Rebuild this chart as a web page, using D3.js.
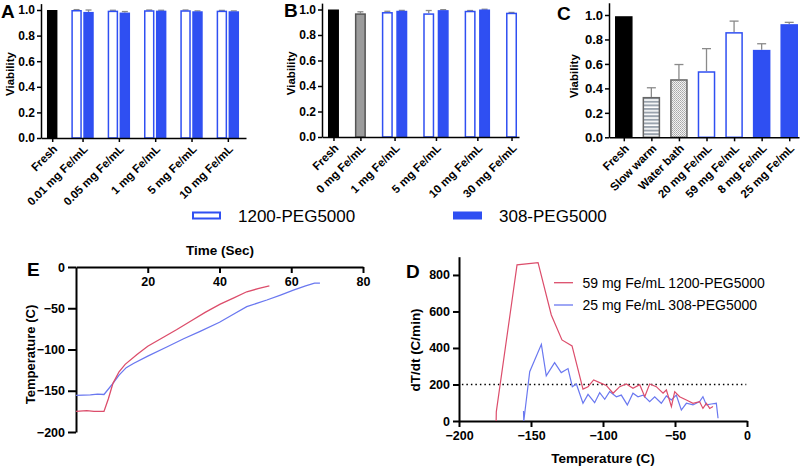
<!DOCTYPE html>
<html><head><meta charset="utf-8">
<script src="https://cdn.jsdelivr.net/npm/d3@7"></script>
<style>
body{margin:0;background:#fff;}
svg{display:block;font-family:"Liberation Sans",Arial,sans-serif;}
.ax text{font-weight:bold;fill:#000;}
.ax path,.ax line{stroke:#000;}
</style></head><body>
<svg id="c" width="810" height="468"></svg>
<script>
// ---------- DATA ----------
// Panel A
const aCategories = ["Fresh","0.01 mg Fe/mL","0.05 mg Fe/mL","1 mg Fe/mL","5 mg Fe/mL","10 mg Fe/mL"];
const aControl    = [1.0, null, null, null, null, null];
const aOpen       = [null, 1.0, 0.995, 0.998, 0.998, 0.995];
const aOpenErr    = [null, 0.003, 0.003, 0.002, 0.002, 0.002];
const aFilled     = [null, 0.985, 0.98, 0.995, 0.99, 0.99];
const aFilledErr  = [null, 0.015, 0.008, 0.003, 0.003, 0.003];
// Panel B
const bCategories = ["Fresh","0 mg Fe/mL","1 mg Fe/mL","5 mg Fe/mL","10 mg Fe/mL","30 mg Fe/mL"];
const bControl    = [1.0, 0.97, null, null, null, null];
const bControlErr = [0, 0.012, null, null, null, null];
const bOpen       = [null, null, 0.98, 0.97, 0.99, 0.975];
const bOpenErr    = [null, null, 0.006, 0.022, 0.002, 0.002];
const bFilled     = [null, null, 0.99, 0.995, 1.0, null];
const bFilledErr  = [null, null, 0.003, 0.004, 0.002, null];
// Panel C
const cCategories = ["Fresh","Slow warm","Water bath","20 mg Fe/mL","59 mg Fe/mL","8 mg Fe/mL","25 mg Fe/mL"];
const cValues     = [0.99, 0.33, 0.475, 0.54, 0.86, 0.715, 0.925];
const cErrors     = [0, 0.075, 0.12, 0.185, 0.09, 0.05, 0.015];
const cSeries     = ["fresh","slow","bath","1200","1200","308","308"];
const viabilityTicks = [0, 0.2, 0.4, 0.6, 0.8, 1.0];
// Legend
const legendLabels = ["1200-PEG5000","308-PEG5000"];
// Panel E: time (s) vs temperature (C)
const eRed  = [[0,-175],[3,-174],[5,-175],[7.8,-175],[9,-160],[10.3,-141],[12,-127],[13.7,-118],[17,-106],[20,-96],[24,-86],[28,-76],[31.8,-66],[36,-55],[40.2,-45],[44,-37.5],[47.6,-30],[51,-26],[53.9,-23]];
const eBlue = [[0,-155.5],[4,-155],[6,-154],[7.8,-154.5],[10.3,-141],[12,-131],[14,-122],[16,-117],[20,-108],[25.3,-97],[30,-87],[34.6,-78],[40,-67],[44,-57],[47.6,-48],[53.2,-40],[57,-34],[60.6,-28],[64,-23],[66.5,-19.5],[68,-19.5]];
const eXTicks = [20,40,60,80];
const eYTicks = [0,-50,-100,-150,-200];
// Panel D: temperature (C) vs dT/dt (C/min)
const dRed = [[-174.2,0],[-174.1,50],[-159.7,855],[-145.1,868],[-135.9,581],[-128.5,444],[-121.5,411],[-113.9,175],[-110.4,188],[-106.5,225],[-102.3,210],[-97.7,195],[-93,152],[-88.4,188],[-83.8,203],[-79.2,179],[-74.5,199],[-71,133],[-67.6,203],[-63,188],[-58.3,152],[-56,170],[-52.5,79],[-50.2,161],[-46.8,133],[-42.1,115],[-37.5,97],[-32.9,106],[-30.6,69],[-28.2,97],[-25.9,69],[-23.6,79]];
const dBlue = [[-155.2,55],[-155,0],[-150.9,270],[-142.8,420],[-139.4,247],[-133.6,320],[-129,265],[-124.3,287],[-121.3,188],[-118.5,203],[-113.9,97],[-110.4,146],[-105.8,100],[-102.3,155],[-98.8,119],[-95.4,161],[-90.7,133],[-87.3,142],[-83.1,88],[-79.2,152],[-75.7,133],[-72.2,142],[-67.6,106],[-64.1,133],[-59.5,97],[-56,137],[-52.5,115],[-49.1,142],[-45.6,60],[-42.1,97],[-37.5,88],[-32.9,106],[-30.6,133],[-28.2,88],[-24.8,93],[-21.3,97],[-20.1,15]];
const dThreshold = 200;
const dXTicks = [-200,-150,-100,-50,0];
const dYTicks = [0,200,400,600,800];
const dLegend = ["59 mg Fe/mL 1200-PEG5000","25 mg Fe/mL 308-PEG5000"];

// ---------- STYLE ----------
const BLUE = "#2f4ff2", RED = "#dc4d6b", LBLUE = "#6a78f0", ERR = "#8a8a8a";
const svg = d3.select("#c");
const defs = svg.append("defs");
const stripes = defs.append("pattern").attr("id","stripes").attr("patternUnits","userSpaceOnUse").attr("width",6).attr("height",3.6);
stripes.append("rect").attr("width",6).attr("height",3.6).attr("fill","#fff");
stripes.append("rect").attr("width",6).attr("height",2).attr("fill","#9aa3ad");
const dots = defs.append("pattern").attr("id","dots").attr("patternUnits","userSpaceOnUse").attr("width",2).attr("height",2);
dots.append("rect").attr("width",2).attr("height",2).attr("fill","#f2f2f2");
dots.append("rect").attr("width",1).attr("height",1).attr("fill","#a8a8a8");
dots.append("rect").attr("x",1).attr("y",1).attr("width",1).attr("height",1).attr("fill","#b8b8b8");

const styles = {
  fresh:{fill:"#000",stroke:"#000"},
  gray:{fill:"#9c9c9c",stroke:"#555"},
  slow:{fill:"url(#stripes)",stroke:"#666"},
  bath:{fill:"url(#dots)",stroke:"#666"},
  "1200":{fill:"#fff",stroke:BLUE},
  "308":{fill:BLUE,stroke:BLUE}
};

// ---------- BAR PANELS ----------
function buildGroups(cats, seriesList){
  return cats.map((c,i)=>({cat:c, bars: seriesList.filter(s=>s.values[i]!=null).map(s=>({v:s.values[i], e:s.errors?(s.errors[i]||0):0, kind:(typeof s.kind==="function"?s.kind(i):s.kind)}))}));
}
function barPanel(opt){
  const {groups, x0, x1, y0, yTop, yMax, inner, outer, padL, padR, letter, letterPos, titleX, tickFont, catFont, capW} = opt;
  let u = padL; const placed = []; const centers = [];
  groups.forEach((g,gi)=>{
    if(gi>0) u += outer;
    const start = u;
    g.bars.forEach((b,bi)=>{ if(bi>0) u += inner; placed.push({...b, u0:u}); u += 1; });
    centers.push({cat:g.cat, c:(start+u)/2});
  });
  const total = u + padR;
  const x = d3.scaleLinear().domain([0,total]).range([x0,x1]);
  const y = d3.scaleLinear().domain([0,yMax]).range([y0,yTop]);
  const g = svg.append("g");
  placed.forEach(b=>{
    if(b.e>0){
      const cx = x(b.u0+0.5);
      g.append("line").attr("x1",cx).attr("x2",cx).attr("y1",y(b.v)).attr("y2",y(b.v+b.e)).attr("stroke",ERR).attr("stroke-width",1.3);
      g.append("line").attr("x1",cx-capW/2).attr("x2",cx+capW/2).attr("y1",y(b.v+b.e)).attr("y2",y(b.v+b.e)).attr("stroke",ERR).attr("stroke-width",1.3);
    }
  });
  g.selectAll("rect.bar").data(placed).join("rect").attr("class","bar")
    .attr("x",d=>x(d.u0)+0.75).attr("width",d=>x(d.u0+1)-x(d.u0)-1.5)
    .attr("y",d=>y(d.v)+0.75).attr("height",d=>y(0)-y(d.v)-0.75)
    .attr("fill",d=>styles[d.kind].fill).attr("stroke",d=>styles[d.kind].stroke).attr("stroke-width",1.5);
  const ya = g.append("g").attr("class","ax").attr("transform",`translate(${x0},0)`)
    .call(d3.axisLeft(y).tickValues(viabilityTicks).tickFormat(d3.format(".1f")).tickSize(4).tickSizeOuter(0).tickPadding(2));
  ya.selectAll("text").style("font-size",tickFont+"px");
  ya.selectAll("path,line").attr("stroke-width",1.5);
  const xa = g.append("g").attr("class","ax").attr("transform",`translate(0,${y0})`)
    .call(d3.axisBottom(x).tickValues(centers.map(c=>c.c)).tickFormat("").tickSize(4).tickSizeOuter(0));
  xa.selectAll("path,line").attr("stroke-width",1.5);
  centers.forEach(c=>{
    g.append("text").attr("transform",`translate(${x(c.c)+3},${y0+9}) rotate(-45)`)
      .attr("text-anchor","end").attr("dy","0.35em").style("font-weight","bold").style("font-size",catFont+"px").text(c.cat);
  });
  g.append("text").attr("transform",`translate(${titleX},${(y0+y(1))/2}) rotate(-90)`).attr("text-anchor","middle")
    .attr("dy","0.35em").style("font-weight","bold").style("font-size","11.5px").text("Viability");
  g.append("text").attr("x",letterPos[0]).attr("y",letterPos[1]).style("font-weight","bold").style("font-size","19px").text(letter);
}

barPanel({groups: buildGroups(aCategories,[{values:aControl,kind:"fresh"},{values:aOpen,errors:aOpenErr,kind:"1200"},{values:aFilled,errors:aFilledErr,kind:"308"}]),
  x0:41, x1:246, y0:138, yTop:138-1.05*128, yMax:1.05, inner:1.5/10.5, outer:14/10.5, padL:6/10.5, padR:7/10.5,
  letter:"A", letterPos:[1,18], titleX:10, tickFont:12, catFont:11.5, capW:6});
barPanel({groups: buildGroups(bCategories,[{values:bControl,errors:bControlErr,kind:i=>i===0?"fresh":"gray"},{values:bOpen,errors:bOpenErr,kind:"1200"},{values:bFilled,errors:bFilledErr,kind:"308"}]),
  x0:322, x1:519, y0:137, yTop:137-1.05*127.5, yMax:1.05, inner:3.5/11, outer:16/11, padL:6/11, padR:2/11,
  letter:"B", letterPos:[284,17], titleX:291, tickFont:12, catFont:11.5, capW:6});
barPanel({groups: buildGroups(cCategories,[{values:cValues,errors:cErrors,kind:i=>cSeries[i]}]),
  x0:609, x1:799, y0:137.3, yTop:137.3-1.1*122.3, yMax:1.1, inner:0, outer:10/17.5, padL:6/17.5, padR:1/17.5,
  letter:"C", letterPos:[557,20], titleX:574, tickFont:13, catFont:11.5, capW:9});

// ---------- LEGEND ----------
const lg = svg.append("g");
const legX = d3.scaleOrdinal().domain(legendLabels).range([192,453]);
legendLabels.forEach((l,i)=>{
  lg.append("rect").attr("x",legX(l)+1).attr("y",212.5).attr("width",27).attr("height",6)
    .attr("fill",i===0?"#fff":BLUE).attr("stroke",BLUE).attr("stroke-width",2);
  lg.append("text").attr("x",legX(l)+46).attr("y",222).style("font-size","17px").text(l);
});

// ---------- PANEL E ----------
(function(){
  const x = d3.scaleLinear().domain([0,80]).range([76,363]);
  const y = d3.scaleLinear().domain([-200,0]).range([432,267]);
  const g = svg.append("g");
  const xa = g.append("g").attr("class","ax").attr("transform",`translate(0,${y(0)})`)
    .call(d3.axisBottom(x).tickValues(eXTicks).tickSize(6).tickSizeOuter(0).tickPadding(4));
  xa.selectAll("text").style("font-size","12.5px");
  xa.selectAll("path,line").attr("stroke-width",2);
  const ya = g.append("g").attr("class","ax").attr("transform",`translate(${x(0)},0)`)
    .call(d3.axisLeft(y).tickValues(eYTicks).tickSize(8).tickSizeOuter(0).tickPadding(3));
  ya.selectAll("text").style("font-size","12.5px");
  ya.selectAll("path,line").attr("stroke-width",2);
  const line = d3.line().x(d=>x(d[0])).y(d=>y(d[1]));
  g.append("path").attr("d",line(eBlue)).attr("fill","none").attr("stroke",LBLUE).attr("stroke-width",1.3);
  g.append("path").attr("d",line(eRed)).attr("fill","none").attr("stroke",RED).attr("stroke-width",1.3);
  g.append("text").attr("x",220).attr("y",255).attr("text-anchor","middle").style("font-weight","bold").style("font-size","13.5px").text("Time (Sec)");
  g.append("text").attr("transform",`translate(30,${(267+432)/2+5}) rotate(-90)`).attr("text-anchor","middle").attr("dy","0.35em")
    .style("font-weight","bold").style("font-size","13px").text("Temperature (C)");
  g.append("text").attr("x",27).attr("y",275.5).style("font-weight","bold").style("font-size","19px").text("E");
})();

// ---------- PANEL D ----------
(function(){
  const x = d3.scaleLinear().domain([-200,0]).range([459,747]);
  const y = d3.scaleLinear().domain([0,900]).range([421,256.7]);
  const g = svg.append("g");
  const xa = g.append("g").attr("class","ax").attr("transform",`translate(0,${y(0)})`)
    .call(d3.axisBottom(x).tickValues(dXTicks).tickSize(6).tickSizeOuter(0).tickPadding(4));
  xa.selectAll("text").style("font-size","12.5px");
  xa.selectAll("path,line").attr("stroke-width",2);
  const ya = g.append("g").attr("class","ax").attr("transform",`translate(${x(-200)},0)`)
    .call(d3.axisLeft(y).tickValues(dYTicks).tickSize(6).tickSizeOuter(0).tickPadding(3));
  ya.selectAll("text").style("font-size","12.5px");
  ya.selectAll("path,line").attr("stroke-width",2);
  g.append("line").attr("x1",x(-198)).attr("x2",x(-0.5)).attr("y1",y(dThreshold)).attr("y2",y(dThreshold))
    .attr("stroke","#000").attr("stroke-width",1.5).attr("stroke-dasharray","1.5,3");
  const line = d3.line().x(d=>x(d[0])).y(d=>y(d[1]));
  g.append("path").attr("d",line(dBlue)).attr("fill","none").attr("stroke",LBLUE).attr("stroke-width",1.2);
  g.append("path").attr("d",line(dRed)).attr("fill","none").attr("stroke",RED).attr("stroke-width",1.2);
  const cols = [RED, LBLUE];
  dLegend.forEach((l,i)=>{
    const yy = 282.7 + i*22.3;
    g.append("line").attr("x1",554).attr("x2",573).attr("y1",yy).attr("y2",yy).attr("stroke",cols[i]).attr("stroke-width",1.3);
    g.append("text").attr("x",582.5).attr("y",yy+5).style("font-size","14px").text(l);
  });
  g.append("text").attr("x",603).attr("y",463).attr("text-anchor","middle").style("font-weight","bold").style("font-size","13.5px").text("Temperature (C)");
  g.append("text").attr("transform",`translate(415,350) rotate(-90)`).attr("text-anchor","middle").attr("dy","0.35em")
    .style("font-weight","bold").style("font-size","13.5px").text("dT/dt (C/min)");
  g.append("text").attr("x",406).attr("y",277.5).style("font-weight","bold").style("font-size","19px").text("D");
})();
</script></body></html>
